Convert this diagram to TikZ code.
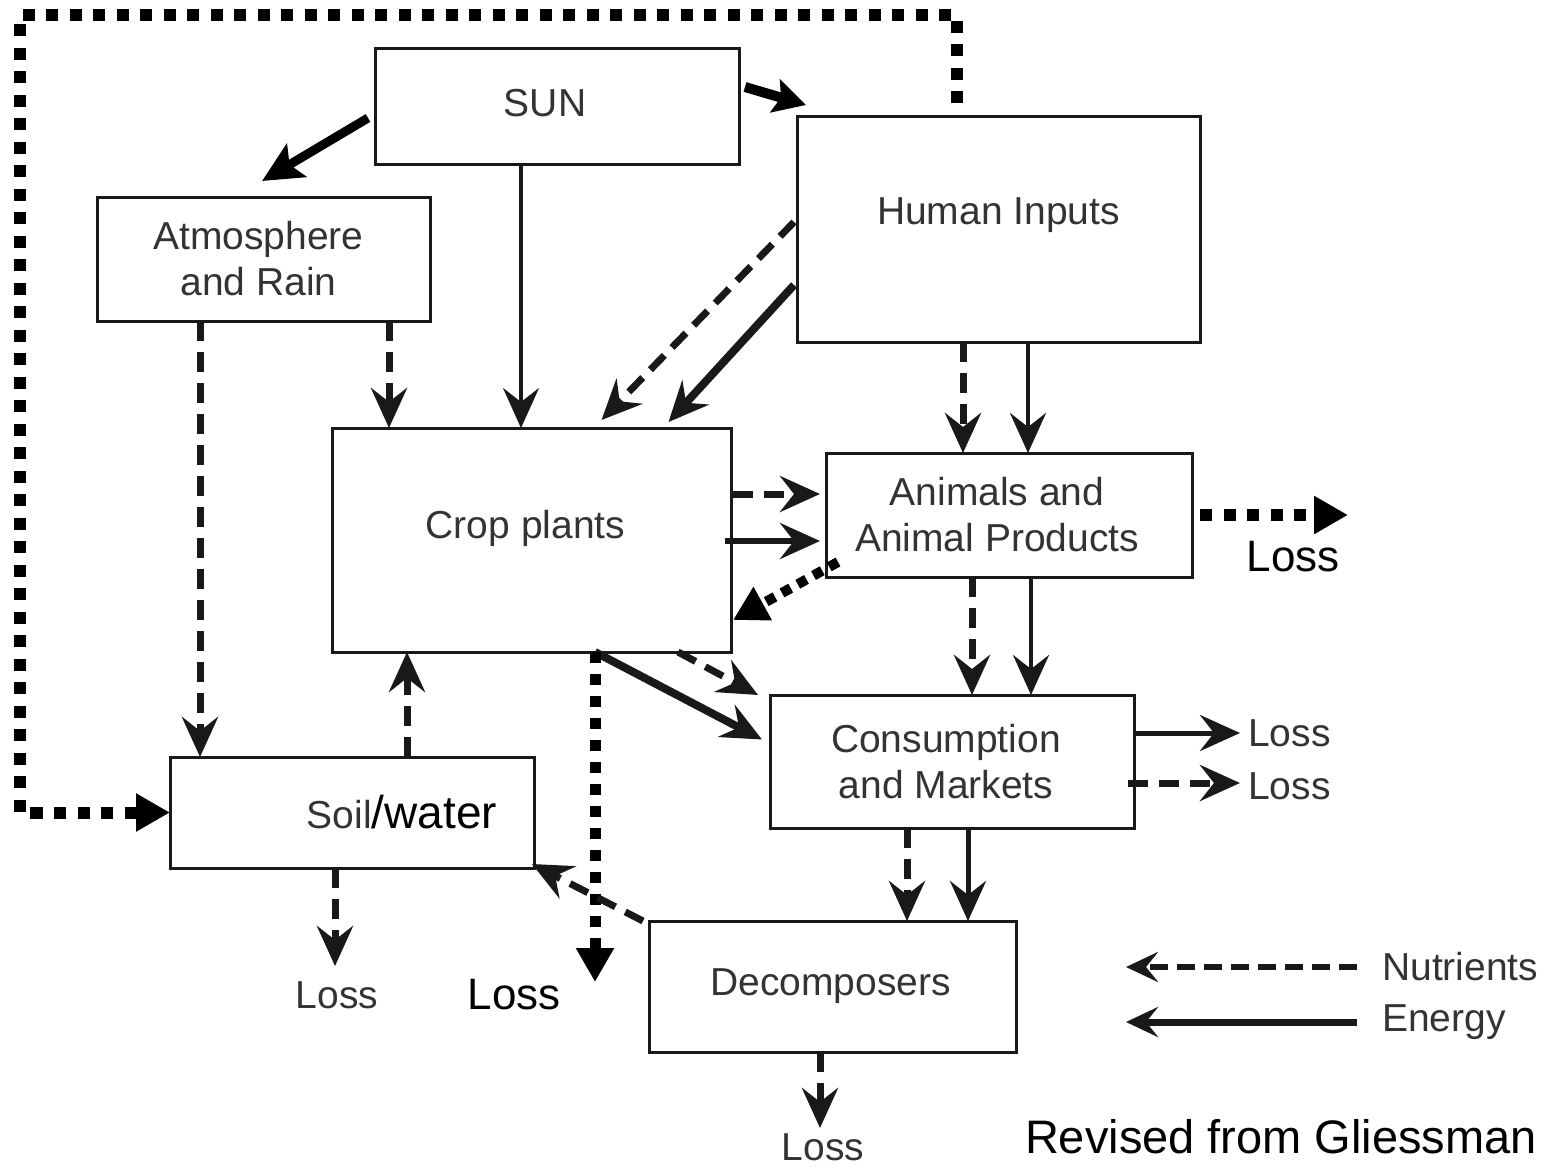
\documentclass[tikz,border=0pt]{standalone}
\usepackage{fontspec}
\setmainfont{Liberation Sans}
\usetikzlibrary{arrows.meta,calc}
\definecolor{ink}{gray}{0.2}
\newcommand{\gfont}{\fontsize{39}{46}\selectfont}
\newcommand{\bfont}{\fontsize{44}{50}\selectfont}
\tikzset{
  boxst/.style={draw=black!90, line width=3pt, outer sep=0pt, inner sep=0pt, anchor=north west},
  lab/.style={font=\gfont, text=ink, align=center, inner sep=0pt},
  blab/.style={font=\bfont, text=black, inner sep=0pt},
  en/.style={draw=black!90, line width=4.5pt, -{Stealth[length=40pt,width=36pt,inset=14pt]}},
  eth/.style={en, line width=8pt},
  nu/.style={en, line width=7pt, dash pattern=on 20pt off 11pt},
  dotln/.style={draw=black, line width=12pt, dash pattern=on 12pt off 11.5pt, -{Triangle[length=34pt,width=36pt]}},
  bigtip/.style={draw=black, line width=9pt, -{Stealth[length=40pt,width=38pt,inset=8pt]}},
  legtip/.style={draw=black!90, -{Stealth[length=32pt,width=30pt,inset=12pt]}}
}
\begin{document}
\begin{tikzpicture}[x=1pt,y=-1pt]
\useasboundingbox (0,0) rectangle (1554,1170);
% boxes
\node[boxst, minimum width=364, minimum height=116, label={[lab,xshift=-12pt,yshift=3pt]center:SUN}] (sun) at (375,48) {};
\node[boxst, minimum width=403, minimum height=226, label={[lab,yshift=14pt]center:Human Inputs}] (hi) at (797,116) {};
\node[boxst, minimum width=333, minimum height=124, label={[lab,xshift=-5pt]center:Atmosphere\\and Rain}] (atm) at (97,197) {};
\node[boxst, minimum width=399, minimum height=224, label={[lab,xshift=-6pt,yshift=12pt]center:Crop plants}] (crop) at (332,428) {};
\node[boxst, minimum width=366, minimum height=124, label={[lab,xshift=-12pt]center:Animals and\\Animal Products}] (ani) at (826,453) {};
\node[boxst, minimum width=364, minimum height=133, label={[lab,xshift=-6pt]center:Consumption\\and Markets}] (cons) at (770,695) {};
\node[boxst, minimum width=364, minimum height=111, label={[xshift=50pt,inner sep=0pt]center:{\gfont\color{ink}Soil}{\fontsize{46}{50}\selectfont\color{black}/water}}] (soil) at (170,757) {};
\node[boxst, minimum width=367, minimum height=131, label={[lab,xshift=-2pt]center:Decomposers}] (dec) at (649,921) {};

% loss labels
\node[blab] (lossA) at (1293,557) {Loss};
\node[blab] (lossB) at (514,995) {Loss};
\node[lab] (lossC) at (337,995) {Loss};
\node[lab, anchor=west] (lossD) at (1248,733) {Loss};
\node[lab, anchor=west] (lossE) at (1248,786) {Loss};
\node[lab] (lossF) at (823,1147) {Loss};

% legend
\node[lab, anchor=west] (nut) at (1382,967) {Nutrients};
\node[lab, anchor=west] (eng) at (1382,1022) {Energy};
\coordinate (nutend) at (1126,967);
\coordinate (engend) at (1126,1022);
\node[blab, font=\fontsize{47}{50}\selectfont] (rev) at (1281,1137) {Revised from Gliessman};

% free-end coordinates
\coordinate (c1) at (957,15);
\coordinate (c2) at (20,15);
\coordinate (tA) at (1348,515);
\coordinate (tB) at (595,982);
\coordinate (tC) at (335,966);
\coordinate (tF) at (820,1128);

% long dotted loop
\draw[dotln] ($(hi.north west)+(160,-13)$) -- (c1) -- (c2) |- (soil.west);

% sun arrows
\draw[bigtip] ($(sun.west)+(-7,12)$) -- ($(atm.north)+(-1.5,-16)$);
\draw[draw=black, line width=10pt, -{Stealth[length=32pt,width=34pt,inset=6pt]}] ($(sun.east)+(6,-19)$) -- ($(hi.north west)+(9,-11)$);
\draw[en, line width=3.5pt] ($(sun.south)+(-36,0)$) -- ($(crop.north)+(-10.5,0)$);

% human inputs
\draw[nu] ($(hi.west)+(-3,-7)$) -- ($(crop.north)+(70,-8)$);
\draw[eth] ($(hi.west)+(-3,56)$) -- ($(crop.north)+(137,-6)$);
\draw[nu] ($(hi.south)+(-35.5,0)$) -- ($(ani.north)+(-46,0)$);
\draw[en] ($(hi.south)+(29.5,0)$) -- ($(ani.north)+(19,0)$);

% atmosphere
\draw[nu] ($(atm.south)+(-63.5,0)$) -- ($(soil.north)+(-152,0)$);
\draw[nu] ($(atm.south)+(125.5,0)$) -- ($(crop.north)+(-142.5,0)$);

% crop <-> animals
\draw[nu] ($(crop.east)+(2,-46)$) -- ($(ani.west)+(-6,-21)$);
\draw[en, line width=5.5pt] ($(crop.east)+(-6,1)$) -- ($(ani.west)+(-6,26)$);
\draw[dotln, line width=10pt, dash pattern=on 10pt off 8pt] ($(ani.south west)+(12,-15)$) -- ($(crop.east)+(2,80)$);
\draw[dotln, line width=12pt] ($(ani.east)+(8,0)$) -- (tA);

% animals -> consumption
\draw[nu] ($(ani.south)+(-37,0)$) -- ($(cons.north)+(20,0)$);
\draw[en] ($(ani.south)+(22,0)$) -- ($(cons.north)+(79,0)$);

% crop -> consumption
\draw[nu] ($(crop.south east)+(-53,0)$) -- ($(cons.north west)+(-12,0)$);
\draw[eth] ($(crop.south)+(63.5,0)$) -- ($(cons.west)+(-8,-22)$);

% crop -> loss (dotted)
\draw[dotln, line width=11pt, dash pattern=on 11pt off 11pt] ($(crop.south)+(63.5,0)$) -- (tB);

% soil
\draw[nu] ($(soil.north)+(55,0)$) -- ($(crop.south)+(-124.5,0)$);
\draw[nu] ($(soil.south)+(-17,0)$) -- (tC);
\draw[nu] ($(dec.north west)+(-6,0)$) -- ($(soil.south east)+(-2,-4)$);

% consumption
\draw[en, line width=5pt] ($(cons.east)+(0,-28.5)$) -- ($(lossD.west)+(-8,0)$);
\draw[nu] ($(cons.east)+(-6,21.5)$) -- ($(lossE.west)+(-8,-3)$);
\draw[nu] ($(cons.south)+(-45,0)$) -- ($(dec.north)+(74.5,0)$);
\draw[en, line width=5pt] ($(cons.south)+(16,0)$) -- ($(dec.north)+(135.5,0)$);

% decomposers
\draw[nu] ($(dec.south)+(-12.5,0)$) -- (tF);

% legend arrows
\draw[legtip, line width=6pt, dash pattern=on 18pt off 9pt] ($(nut.west)+(-25,0)$) -- (nutend);
\draw[legtip, line width=7pt] ($(eng.west)+(-25,0)$) -- (engend);
\end{tikzpicture}
\end{document}
